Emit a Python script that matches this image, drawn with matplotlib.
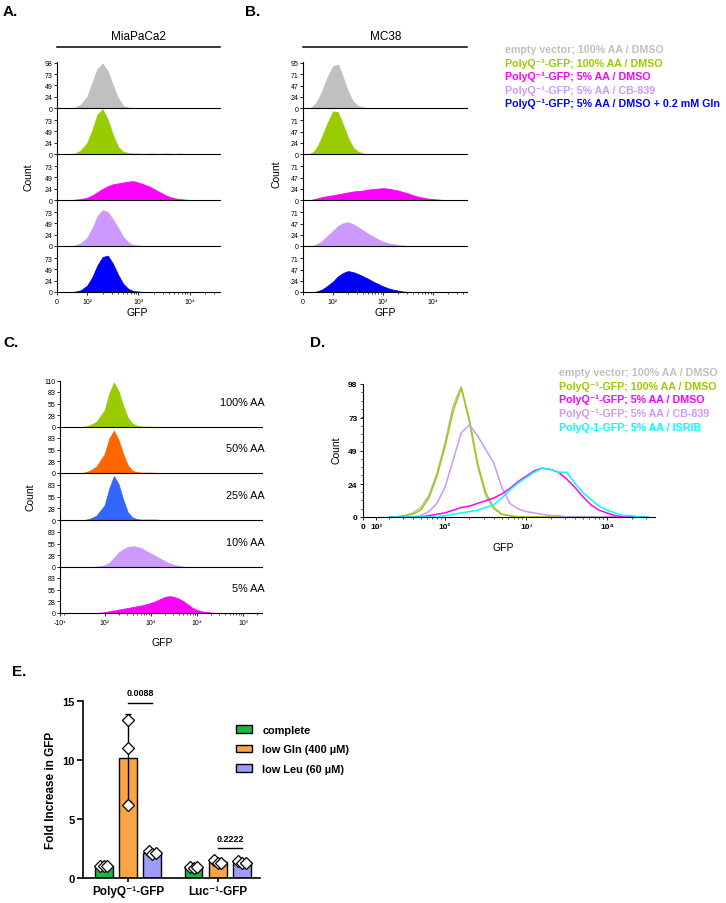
import numpy as np
import matplotlib
matplotlib.use('Agg')
import matplotlib.pyplot as plt
from matplotlib.lines import Line2D
from matplotlib.patches import Patch
from matplotlib.ticker import SymmetricalLogLocator, NullFormatter

plt.rcParams['font.family'] = ['Liberation Sans', 'DejaVu Sans']

# shared histogram grid (log10 GFP, bin centres)
log_gfp = [1.3, 1.4, 1.5, 1.6, 1.7, 1.8, 1.9, 2.0, 2.1, 2.2, 2.3, 2.4, 2.5, 2.6, 2.7, 2.8, 2.9,
           3.0, 3.1, 3.2, 3.3, 3.4, 3.5, 3.6, 3.7, 3.8, 3.9, 4.0, 4.1, 4.2, 4.3, 4.4, 4.5]

# panel A - MiaPaCa2
a_gray     = [0,0,0,0,0, 2,8,25,55,85, 96,80,50,22,5, 1,0,0,0,0, 0,0,0,0,0, 0,0,0,0,0, 0,0,0]
a_green    = [0,0,0,0,0, 2,8,24,52,86, 97,75,42,16,5, 2,1,1,0,1, 1,0,1,1,0, 1,0,0,0,0, 0,0,0]
a_magenta  = [0,0,0,0,0, 1,2,5,10,17, 24,30,34,36,38, 40,41,38,34,30, 24,18,12,7,4, 2,1,0,0,0, 0,0,0]
a_lavender = [0,0,0,0,0, 2,6,18,38,65, 78,74,58,40,20, 8,2,1,0,0, 0,0,0,0,0, 0,0,0,0,0, 0,0,0]
a_blue     = [0,0,0,0,0, 1,4,14,32,58, 76,79,62,38,18, 7,2,1,0,0, 0,0,0,0,0, 0,0,0,0,0, 0,0,0]

# panel B - MC38
b_gray     = [0,1,3,8,18, 35,62,88,92,65, 35,14,4,1,0, 0,0,0,0,0, 0,0,0,0,0, 0,0,0,0,0, 0,0,0]
b_green    = [0,1,3,8,18, 36,62,90,88,62, 34,14,5,1,0, 0,0,0,0,0, 0,0,0,0,0, 0,0,0,0,0, 0,0,0]
b_magenta  = [0,0,1,2,4, 6,8,10,12,14, 16,18,19,20,22, 23,24,25,24,22, 20,17,14,10,7, 5,3,2,1,0, 0,0,0]
b_lavender = [0,0,0,2,5, 10,20,32,42,48, 50,46,40,33,26, 20,14,9,6,4, 2,1,0,0,0, 0,0,0,0,0, 0,0,0]
b_blue     = [0,0,0,0,2, 5,12,22,33,40, 44,42,38,33,28, 22,17,12,8,5, 3,1,0,0,0, 0,0,0,0,0, 0,0,0]

# panel C - amino acid titration
c_labels   = ['100% AA', '50% AA', '25% AA', '10% AA', '5% AA']
c_green    = [0,0,0,0,1, 4,12,40,80,105, 85,50,22,8,3, 1,1,1,0,0, 0,0,0,0,0, 0,0,0,0,0, 0,0,0]
c_orange   = [0,0,0,0,1, 5,15,45,82,100, 78,45,18,5,2, 1,1,1,0,0, 0,0,0,0,0, 0,0,0,0,0, 0,0,0]
c_blue     = [0,0,0,0,0, 3,10,35,75,104, 85,48,18,6,2, 1,1,1,1,0, 0,0,0,0,0, 0,0,0,0,0, 0,0,0]
c_lavender = [0,0,0,0,0, 0,1,4,10,22, 34,42,47,49,48, 44,38,32,26,20, 14,9,5,3,1, 0,0,0,0,0, 0,0,0]
c_magenta  = [0,0,0,0,0, 0,0,2,4,6, 8,10,12,14,16, 18,21,24,28,33, 38,40,38,34,28, 20,12,7,4,2, 1,0,0]

# panel D - overlay
d_gray     = [0,0,1,3,7, 16,32,55,82,96, 70,38,16,6,2, 1,0,0,0,0, 0,0,0,0,0, 0,0,0,0,0, 0,0,0]
d_green    = [0,0,1,2,5, 14,30,52,78,95, 72,40,18,7,2, 1,0,0,0,0, 0,0,0,0,0, 0,0,0,0,0, 0,0,0]
d_magenta  = [0,0,0,0,0, 1,2,3,5,7, 8,10,12,14,17, 21,26,30,34,36, 35,33,28,22,15, 9,5,3,1,0, 0,0,0]
d_lavender = [0,0,0,0,1, 4,10,22,42,62, 68,60,50,40,22, 10,6,4,3,2, 1,1,0,0,0, 0,0,0,0,0, 0,0,0]
d_cyan     = [0,0,0,0,0, 0,0,1,2,3, 4,5,7,9,14, 20,25,29,33,36, 35,33,33,25,18, 13,8,5,3,1, 1,0,0]

legend_ab = ['empty vector; 100% AA / DMSO', 'PolyQ\u207b\u00b9-GFP; 100% AA / DMSO',
             'PolyQ\u207b\u00b9-GFP; 5% AA / DMSO', 'PolyQ\u207b\u00b9-GFP; 5% AA / CB-839',
             'PolyQ\u207b\u00b9-GFP; 5% AA / DMSO + 0.2 mM Gln']
legend_d = ['empty vector; 100% AA / DMSO', 'PolyQ\u207b\u00b9-GFP; 100% AA / DMSO',
            'PolyQ\u207b\u00b9-GFP; 5% AA / DMSO', 'PolyQ\u207b\u00b9-GFP; 5% AA / CB-839',
            'PolyQ-1-GFP; 5% AA / ISRIB']

# panel E - bar chart
e_groups = ['PolyQ\u207b\u00b9-GFP', 'Luc\u207b\u00b9-GFP']
e_conditions = ['complete', 'low Gln (400 \u00b5M)', 'low Leu (60 \u00b5M)']
e_complete = [[1.0, 1.0, 1.0], [0.9, 0.88, 0.92]]
e_low_gln = [[13.4, 11.0, 6.2], [1.5, 1.25, 1.3]]
e_low_leu = [[2.3, 2.0, 2.1], [1.4, 1.25, 1.3]]
e_pvalues = ['0.0088', '0.2222']

GRAY, GREEN, MAGENTA, LAV, BLUE = '#c0c0c0', '#99cc00', '#ff00ff', '#cc99ff', '#0000ff'
ORANGE_C, BLUE_C, CYAN = '#ff6600', '#3366ff', '#00ffff'
E_COLORS = ['#22b43c', '#f9a546', '#9d9df7']

W, H = 726, 904
fig = plt.figure(figsize=(W / 100, H / 100), dpi=100)

gfp = 10 ** np.array(log_gfp)


def ax_px(x0, y_top, x1, y_bot):
    return fig.add_axes([x0 / W, 1 - y_bot / H, (x1 - x0) / W, (y_bot - y_top) / H])


def ftext(x, y, s, **kw):
    fig.text(x / W, 1 - y / H, s, **kw)


def stack(x0, x1, zeros, row_h, rows, colors, ytop, yticks, top_tick, lin, lsc, xlim, xticks, xlabels):
    for i, (vals, col) in enumerate(zip(rows, colors)):
        ax = ax_px(x0, zeros[i] - row_h, x1, zeros[i])
        ax.set_xscale('symlog', linthresh=lin, linscale=lsc)
        ax.fill_between(gfp, vals, color=col, lw=0.6, edgecolor=col)
        ax.set_xlim(*xlim)
        ax.set_ylim(0, ytop)
        ax.patch.set_alpha(0)
        for s in ['top', 'right']:
            ax.spines[s].set_visible(False)
        for s in ['left', 'bottom']:
            ax.spines[s].set_linewidth(0.8)
        ticks = list(yticks) + ([top_tick] if i == 0 else [])
        ax.set_yticks(ticks)
        ax.set_yticklabels([str(t) for t in ticks])
        ax.tick_params(axis='y', labelsize=5, length=2, width=0.6, pad=1)
        if i < len(rows) - 1:
            ax.tick_params(axis='x', which='both', bottom=False, labelbottom=False)
        else:
            ax.set_xticks(xticks)
            ax.set_xticklabels(xlabels)
            ax.xaxis.set_minor_locator(SymmetricalLogLocator(linthresh=lin, base=10, subs=np.arange(2, 10)))
            ax.xaxis.set_minor_formatter(NullFormatter())
            ax.tick_params(axis='x', which='major', labelsize=5, length=2.5, width=0.6, pad=1.5)
            ax.tick_params(axis='x', which='minor', length=1.5, width=0.5)


zeros_ab = [109, 155, 201, 247, 293]
stack(57, 220, zeros_ab, 46, [a_gray, a_green, a_magenta, a_lavender, a_blue],
      [GRAY, GREEN, MAGENTA, LAV, BLUE], 100, [0, 24, 49, 73], 98, 100, 0.53,
      (0, 10 ** 4.59), [0, 100, 1000, 10000], ['0', '10\u00b2', '10\u00b3', '10\u2074'])
stack(303, 467, zeros_ab, 46, [b_gray, b_green, b_magenta, b_lavender, b_blue],
      [GRAY, GREEN, MAGENTA, LAV, BLUE], 97, [0, 24, 47, 71], 95, 100, 0.54,
      (0, 10 ** 4.68), [0, 100, 1000, 10000], ['0', '10\u00b2', '10\u00b3', '10\u2074'])
zeros_c = [428, 474, 521, 568, 614]
stack(60, 262, zeros_c, 46.4, [c_green, c_orange, c_blue, c_lavender, c_magenta],
      [GREEN, ORANGE_C, BLUE_C, LAV, MAGENTA], 110, [0, 28, 55, 83], 110, 100, 0.79,
      (-10, 10 ** 5.4), [-10, 100, 1000, 10000, 100000],
      ['-10\u00b9', '10\u00b2', '10\u00b3', '10\u2074', '10\u2075'])

for lab, z in zip(c_labels, zeros_c):
    ftext(265, z - 25, lab, fontsize=7.8, ha='right', va='center')

# panel titles / labels
ftext(3, 12, 'A.', fontsize=11, fontweight='bold', va='center')
ftext(245, 12, 'B.', fontsize=11, fontweight='bold', va='center')
ftext(3, 343, 'C.', fontsize=11, fontweight='bold', va='center')
ftext(310, 343, 'D.', fontsize=11, fontweight='bold', va='center')
ftext(12, 672, 'E.', fontsize=11, fontweight='bold', va='center')

ftext(138, 37, 'MiaPaCa2', fontsize=8.5, ha='center', va='center')
ftext(386, 37, 'MC38', fontsize=8.5, ha='center', va='center')
for x0, x1 in [(57, 220), (303, 467)]:
    fig.add_artist(Line2D([x0 / W, x1 / W], [1 - 48 / H] * 2, color='black', lw=1.1))

for x, y in [(28, 177), (277, 174), (30, 497), (337, 450)]:
    ftext(x, y, 'Count', fontsize=7.5, rotation=90, ha='center', va='center')
for x, y in [(137, 313), (385, 313), (162, 643), (503, 548)]:
    ftext(x, y, 'GFP', fontsize=7.5, ha='center', va='center')

for k, (lab, col) in enumerate(zip(legend_ab, [GRAY, GREEN, MAGENTA, LAV, BLUE])):
    ftext(505, 50 + 13.6 * k, lab, fontsize=7.7, fontweight='bold', color=col, va='center')

# panel D overlay
axd = ax_px(363, 385, 655, 518)
axd.set_xscale('symlog', linthresh=30, linscale=0.44)
for vals, col in zip([d_gray, d_green, d_lavender, d_magenta, d_cyan], [GRAY, GREEN, LAV, MAGENTA, CYAN]):
    axd.plot(gfp, vals, color=col, lw=1.1)
axd.set_xlim(0, 10 ** 4.59)
axd.set_ylim(0, 98)
for s in ['top', 'right']:
    axd.spines[s].set_visible(False)
axd.set_yticks([0, 24, 49, 73, 98])
axd.set_yticks(np.arange(0, 98, 24.5 / 4), minor=True)
axd.set_xticks([0, 10, 100, 1000, 10000])
axd.set_xticklabels(['0', '10\u00b9', '10\u00b2', '10\u00b3', '10\u2074'])
axd.xaxis.set_minor_locator(SymmetricalLogLocator(linthresh=30, base=10, subs=np.arange(2, 10)))
axd.xaxis.set_minor_formatter(NullFormatter())
axd.tick_params(which='major', labelsize=6, length=2.5, width=0.6, pad=1.5)
axd.tick_params(which='minor', length=1.5, width=0.5)
for t in axd.get_xticklabels() + axd.get_yticklabels():
    t.set_fontweight('bold')
for k, (lab, col) in enumerate(zip(legend_d, [GRAY, GREEN, MAGENTA, LAV, CYAN])):
    ftext(559, 373 + 13.7 * k, lab, fontsize=7.7, fontweight='bold', color=col, va='center')

# panel E bars
axe = ax_px(83, 702, 260, 879)
offsets = [-0.27, 0.0, 0.27]
gx = np.arange(len(e_groups))
for ci, reps in enumerate([e_complete, e_low_gln, e_low_leu]):
    means = [np.mean(r) for r in reps]
    sds = [np.std(r, ddof=1) for r in reps]
    xs = gx + offsets[ci]
    axe.bar(xs, means, width=0.2, color=E_COLORS[ci], edgecolor='black', lw=1.0, zorder=2,
            label=e_conditions[ci])
    axe.errorbar(xs, means, yerr=sds, fmt='none', ecolor='black', elinewidth=1.0, capsize=2.5,
                 capthick=1.0, zorder=3)
    for x, r in zip(xs, reps):
        spread = max(r) - min(r)
        jit = [-0.04, 0.0, 0.04] if spread < 1 else [0, 0, 0]
        axe.plot(x + np.array(jit), r, 'D', ms=6, mfc='white', mec='black', mew=0.9, zorder=4,
                 clip_on=False)
axe.set_xlim(-0.5, 1.47)
axe.set_ylim(0, 15)
axe.set_yticks([0, 5, 10, 15])
axe.set_xticks(gx)
axe.set_xticklabels(e_groups)
for s in ['top', 'right']:
    axe.spines[s].set_visible(False)
for s in ['left', 'bottom']:
    axe.spines[s].set_linewidth(1.2)
axe.tick_params(axis='y', labelsize=8, width=1.2, length=4, pad=2)
axe.tick_params(axis='x', labelsize=8.5, width=1.2, length=3, pad=2)
for t in axe.get_xticklabels() + axe.get_yticklabels():
    t.set_fontweight('bold')
axe.set_ylabel('Fold Increase in GFP', fontsize=8.5, fontweight='bold', labelpad=4)

for g, (p, yl) in enumerate(zip(e_pvalues, [14.85, 2.55])):
    axe.plot([g + offsets[1], g + offsets[2]], [yl, yl], color='black', lw=1.0, clip_on=False)
    axe.text(g + 0.135, yl + 0.45, p, fontsize=6.5, fontweight='bold', ha='center', va='bottom')

handles = [Patch(facecolor=c, edgecolor='black', lw=1.0, label=l) for c, l in zip(E_COLORS, e_conditions)]
fig.legend(handles=handles, loc='upper left', bbox_to_anchor=(236 / W, 1 - 726 / H), frameon=False,
           prop={'size': 7.9, 'weight': 'bold'}, handlelength=1.5, handleheight=0.7,
           handletextpad=0.9, labelspacing=0.85, borderpad=0, borderaxespad=0)

fig.savefig('out.png', dpi=100)
